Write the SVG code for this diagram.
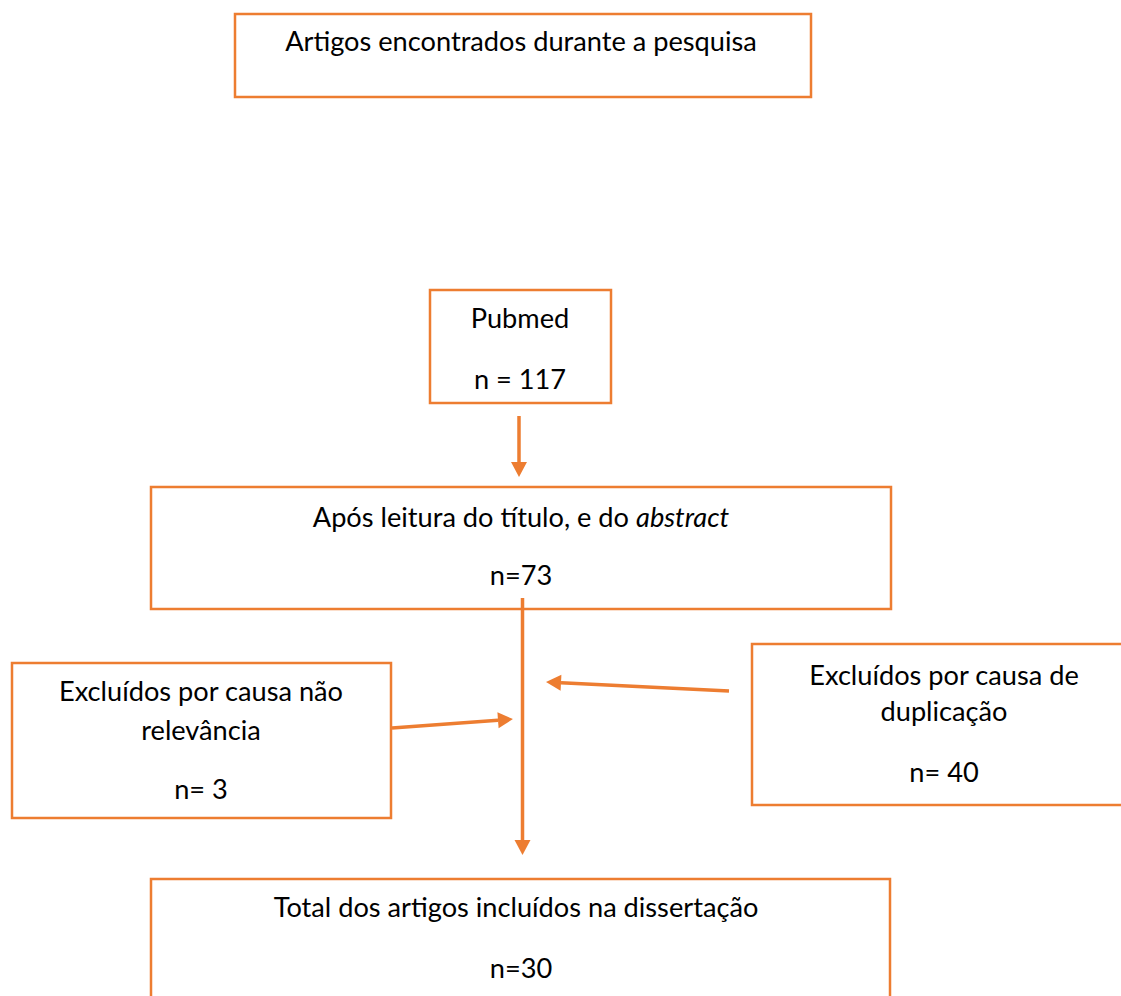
<svg xmlns="http://www.w3.org/2000/svg" width="1121" height="996" viewBox="0 0 1121 996">
<style>
.box{fill:#fff;stroke:#ED7D31;stroke-width:2.5}
.t{font-family:Lato,"Liberation Sans",sans-serif;font-size:27.2px;fill:#000;text-anchor:middle}
.c{stroke:#ED7D31;stroke-width:3.5;fill:none}
</style>
<defs>
<marker id="ah" markerUnits="userSpaceOnUse" markerWidth="20" markerHeight="20" viewBox="0 -10 16 20" refX="0" refY="0" orient="auto">
<path d="M0,-8 L15,0 L0,8 z" fill="#ED7D31"/>
</marker>
</defs>
<rect width="1121" height="996" fill="#fff"/>
<g id="n1"><rect class="box" x="235" y="14" width="576" height="83"/><text class="t" x="521" y="51">Artigos encontrados durante a pesquisa</text></g>
<g id="n2"><rect class="box" x="430" y="290" width="181" height="113"/><text class="t" x="520" y="328">Pubmed</text><text class="t" x="520" y="389">n = 117</text></g>
<g id="n3"><rect class="box" x="151" y="487" width="740" height="122"/><text class="t" x="521" y="527">Após leitura do título, e do <tspan font-style="italic">abstract</tspan></text><text class="t" x="521" y="585">n=73</text></g>
<g id="n4"><rect class="box" x="12" y="663" width="379" height="155"/><text class="t" x="201" y="701">Excluídos por causa não</text><text class="t" x="201" y="740">relevância</text><text class="t" x="201" y="799">n= 3</text></g>
<g id="n5"><rect class="box" x="752" y="644" width="385" height="161"/><text class="t" x="944" y="685">Excluídos por causa de</text><text class="t" x="944" y="721">duplicação</text><text class="t" x="944" y="782">n= 40</text></g>
<g id="n6"><rect class="box" x="151" y="879" width="739" height="130"/><text class="t" x="516" y="917">Total dos artigos incluídos na dissertação</text><text class="t" x="521" y="978">n=30</text></g>
<g id="connectors">
<line class="c" x1="519" y1="416" x2="519" y2="462" marker-end="url(#ah)"/>
<line class="c" x1="522.5" y1="598" x2="522.5" y2="840" marker-end="url(#ah)"/>
<line class="c" x1="392" y1="728" x2="498" y2="720.2" marker-end="url(#ah)"/>
<line class="c" x1="729" y1="691" x2="561" y2="682.7" marker-end="url(#ah)"/>
</g>
</svg>
